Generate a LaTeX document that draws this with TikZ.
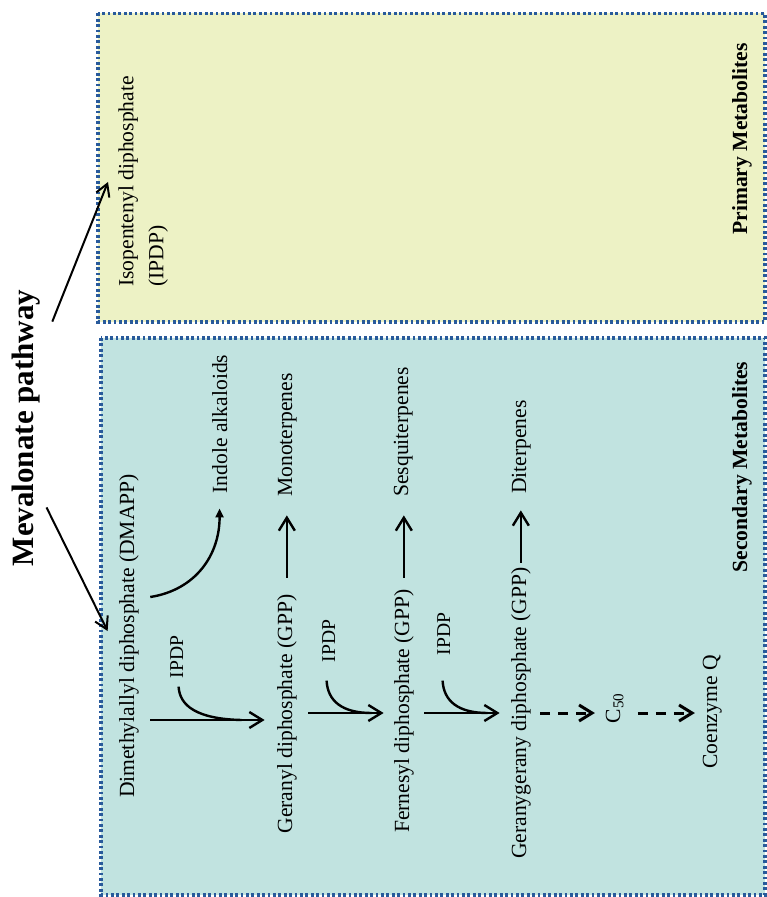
\documentclass[tikz,border=0pt]{standalone}
\usepackage{fontspec}
\setmainfont{Liberation Serif}
\usetikzlibrary{arrows.meta}
\definecolor{primfill}{RGB}{237,242,197}
\definecolor{secfill}{RGB}{193,227,224}
\definecolor{dotblue}{RGB}{40,90,155}
\begin{document}
\begin{tikzpicture}[x=0.5pt,y=-0.5pt,
  lbl/.style={rotate=90,inner sep=0pt,anchor=base,font=\fontsize{10.8}{13}\selectfont},
  small/.style={lbl,font=\fontsize{9.8}{11}\selectfont},
  hdr/.style={lbl,font=\fontsize{10.8}{13}\selectfont\bfseries},
  title/.style={lbl,font=\fontsize{15.5}{18}\selectfont\bfseries},
  dotbox/.style={draw=dotblue,line width=1.6pt,dash pattern=on 1.4pt off 1.3pt},
  arr/.style={line width=1.2pt,-{Straight Barb[length=6.5pt,width=8pt]}},
  darr/.style={line width=1.5pt,dash pattern=on 5pt off 4pt,-{Straight Barb[length=6.5pt,width=8pt]}},
  marr/.style={line width=1pt,-{Straight Barb[length=6pt,width=7pt]}},
  farr/.style={line width=1.2pt,-{Triangle[length=4.5pt,width=4pt]}},
  feed/.style={line width=1.2pt}]
\useasboundingbox (0,0) rectangle (766,897);
% boxes
\fill[primfill] (98,13.5) rectangle (765,322);
\draw[dotbox] (98,13.5) rectangle (765,322);
\fill[secfill] (101,338) rectangle (765,895);
\draw[dotbox] (101,338) rectangle (765,895);
% texts
\node[title] (mev) at (33,428) {Mevalonate pathway};
\node[lbl,anchor=north west,align=left,font=\fontsize{10.8}{15}\selectfont] (iso) at (118,287) {Isopentenyl diphosphate\\(IPDP)};
\node[hdr] (prim) at (747,139) {Primary Metabolites};
\node[hdr] (sec) at (747,467) {Secondary Metabolites};
\node[lbl] (dmapp) at (134,636) {Dimethylallyl diphosphate (DMAPP)};
\node[lbl] (indole) at (227,424) {Indole alkaloids};
\node[lbl] (gpp) at (292,714) {Geranyl diphosphate (GPP)};
\node[lbl] (mono) at (292,435) {Monoterpenes};
\node[lbl] (fpp) at (409,711) {Fernesyl diphosphate (GPP)};
\node[lbl] (sesq) at (408,432) {Sesquiterpenes};
\node[lbl] (ggpp) at (526,713) {Geranygerany diphosphate (GPP)};
\node[lbl] (dit) at (526,447) {Diterpenes};
\node[small] (ipdp1) at (183,657) {IPDP};
\node[small] (ipdp2) at (335,641) {IPDP};
\node[small] (ipdp3) at (450,634) {IPDP};
\node[lbl] (c50) at (620,708) {C\textsubscript{50}};
\node[lbl] (coq) at (717,712) {Coenzyme Q};
% rows
\coordinate (row1) at (0,720);
\coordinate (row2) at (0,713);
% mevalonate arrows
\draw[marr] ([xshift=6.1pt,yshift=-16.1pt]mev.south east) -- ([xshift=-5pt,yshift=52.5pt]iso.north west);
\draw[marr] ([xshift=3.2pt,yshift=29.6pt]mev.south west) -- ([xshift=-5.5pt,yshift=2.5pt]dmapp.north);
% main chain
\draw[arr] ([xshift=5.6pt]dmapp.south |- row1) -- ([xshift=-6pt]gpp.north |- row1);
\draw[arr] ([xshift=5.6pt]gpp.south |- row2) -- ([xshift=-5pt]fpp.north |- row2);
\draw[arr] ([xshift=5.1pt]fpp.south |- row2) -- ([xshift=-5.5pt]ggpp.north |- row2);
\draw[darr] ([xshift=4.6pt]ggpp.south |- row2) -- ([xshift=-5.2pt]c50.north |- row2);
\draw[darr] ([xshift=7pt]c50.south |- row2) -- ([xshift=-3.7pt]coq.north |- row2);
% IPDP feeds
\draw[feed] ([xshift=1pt,yshift=-4pt]ipdp1.west) .. controls +(1,19) and +(-45,-1) .. ([xshift=-17.5pt]gpp.north |- row1);
\draw[feed] ([xshift=-1pt,yshift=-9pt]ipdp2.west) .. controls +(1,20) and +(-30,0) .. ([xshift=-11pt]fpp.north |- row2);
\draw[feed] ([xshift=-0.5pt,yshift=-12.5pt]ipdp3.west) .. controls +(1,20) and +(-30,0) .. ([xshift=-11.5pt]ggpp.north |- row2);
% side products
\draw[arr] ([yshift=8.3pt]gpp.east) -- ([yshift=-9.1pt]gpp.east |- mono.west);
\draw[arr] ([yshift=5.6pt]fpp.east) -- ([yshift=-9.1pt]fpp.east |- sesq.west);
\draw[arr] ([yshift=2.1pt]ggpp.east) -- ([yshift=-8.1pt]ggpp.east |- dit.west);
\draw[farr] ([xshift=5.6pt,yshift=19.5pt]dmapp.south) .. controls +(45,-7) and +(0,47) .. ([yshift=-7.4pt]indole.west);
\end{tikzpicture}
\end{document}
